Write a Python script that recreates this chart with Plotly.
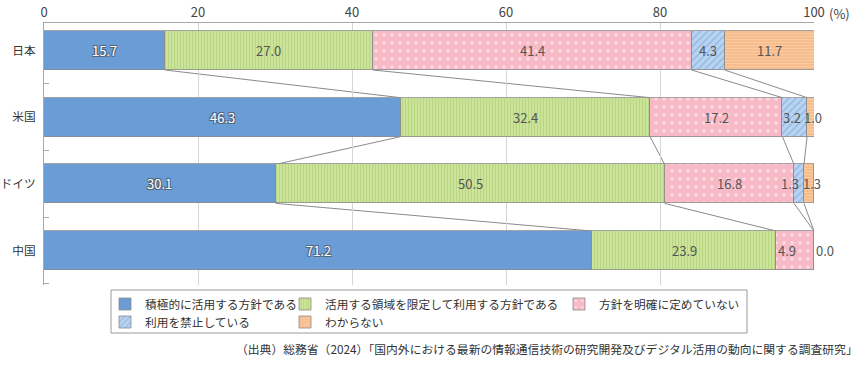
import plotly.graph_objects as go

# ---------------- data ----------------
countries = ["日本", "米国", "ドイツ", "中国"]
series_names = [
    "積極的に活用する方針である",
    "活用する領域を限定して利用する方針である",
    "方針を明確に定めていない",
    "利用を禁止している",
    "わからない",
]
active = [15.7, 46.3, 30.1, 71.2]
limited = [27.0, 32.4, 50.5, 23.9]
undecided = [41.4, 17.2, 16.8, 4.9]
prohibited = [4.3, 3.2, 1.3, 0.0]
unknown = [11.7, 1.0, 1.3, 0.0]
x_tick_vals = [0, 20, 40, 60, 80, 100]
x_tick_text = ["0", "20", "40", "60", "80", "100"]
source_text = "（出典）総務省（2024）「国内外における最新の情報通信技術の研究開発及びデジタル活用の動向に関する調査研究」"

series_values = [active, limited, undecided, prohibited, unknown]

# ---------------- style ----------------
FONT = "Noto Sans CJK JP"
W, H = 865, 371
PL, PR, PT, PB = 44, 814, 23, 285
PH = PB - PT
BAR_W = 0.585
Y_TOP, Y_BOT = -0.412, 3.516

styles = [
    dict(color="#6a9dd5", pattern=None),
    dict(color="#cbe39b", pattern=dict(shape="|", bgcolor="#cbe39b", fgcolor="#a3c963", size=3, solidity=0.35)),
    dict(color="#f7b9c5", pattern=dict(shape=".", bgcolor="#f7b9c5", fgcolor="#ffffff", size=8, solidity=0.15)),
    dict(color="#b9d3f1", pattern=dict(shape="/", bgcolor="#b9d3f1", fgcolor="#6f9fd8", size=5, solidity=0.3)),
    dict(color="#f8bd8c", pattern=dict(shape="-", bgcolor="#f8bd8c", fgcolor="#fcdcc2", size=3, solidity=0.3)),
]
legend_ids = ["legend", "legend2", "legend3", "legend4", "legend5"]
# label nudges (pixels) for the thin segments
label_shift = {(3, 1): -3, (4, 1): 2, (3, 2): -9, (4, 2): 3, (2, 3): -8, (3, 3): 11, (4, 3): 11}

ypos = list(range(len(countries)))

fig = go.Figure()
for k, (name, vals) in enumerate(zip(series_names, series_values)):
    marker = dict(color=styles[k]["color"], line=dict(color="#8c8c8c", width=0.8))
    if styles[k]["pattern"] is not None:
        marker["pattern"] = styles[k]["pattern"]
    fig.add_trace(go.Bar(
        x=vals, y=ypos, orientation="h", name=name, marker=marker,
        width=BAR_W, legend=legend_ids[k], hoverinfo="x+name",
    ))

# cumulative boundaries
cum = []
running = [0.0] * len(countries)
for vals in series_values:
    running = [r + v for r, v in zip(running, vals)]
    cum.append(running[:])

shapes = []
# connector lines between bars
for k in range(len(series_values) - 1):
    for i in range(len(countries) - 1):
        shapes.append(dict(
            type="line", xref="x", yref="y",
            x0=cum[k][i], y0=i + BAR_W / 2, x1=cum[k][i + 1], y1=i + 1 - BAR_W / 2,
            line=dict(color="#8a8a8a", width=1), layer="below",
        ))

# legend frame
shapes.append(dict(
    type="rect", xref="paper", yref="paper",
    x0=(111 - PL) / (PR - PL), x1=(747 - PL) / (PR - PL),
    y0=(PB - 290) / PH, y1=(PB - 333) / PH,
    line=dict(color="#9a9a9a", width=1), fillcolor="rgba(0,0,0,0)",
))

annotations = []
outline = "-1px -1px 0 #55657a, 1px -1px 0 #55657a, -1px 1px 0 #55657a, 1px 1px 0 #55657a"
n_series = len(series_values)
for k, vals in enumerate(series_values):
    for i, v in enumerate(vals):
        # zero-width segments at the same spot share one label
        if v == 0 and k < n_series - 1 and series_values[k + 1][i] == 0:
            continue
        start = cum[k][i] - v
        font = dict(family=FONT, size=13, color="#555555")
        if k == 0:
            font = dict(family=FONT, size=13, color="#ffffff", shadow=outline)
        annotations.append(dict(
            x=start + v / 2, y=i, xref="x", yref="y", text=f"{v:.1f}",
            showarrow=False, font=font, xanchor="center", yanchor="middle",
            xshift=label_shift.get((k, i), 0),
        ))

# "(%)" unit next to 100
annotations.append(dict(
    x=100, y=1, xref="x", yref="paper", text="(%)", showarrow=False,
    xanchor="left", yanchor="middle", xshift=13, yshift=10,
    font=dict(family=FONT, size=13, color="#444444"),
))
# source line
annotations.append(dict(
    x=(860 - PL) / (PR - PL), y=(PB - 348) / PH, xref="paper", yref="paper",
    text=source_text, showarrow=False, xanchor="right", yanchor="middle",
    font=dict(family=FONT, size=11.8, color="#333333"),
))

# legends: one item each, arranged in a 3-column grid
leg_text_x = [145, 325, 599, 145, 325]
leg_row_y = [304, 304, 304, 322, 322]
legend_layouts = {}
for k, lid in enumerate(legend_ids):
    legend_layouts[lid] = dict(
        x=(leg_text_x[k] - 40 - PL) / (PR - PL), y=(PB - leg_row_y[k]) / PH,
        xanchor="left", yanchor="middle", xref="paper", yref="paper",
        bgcolor="rgba(0,0,0,0)", borderwidth=0,
        font=dict(family=FONT, size=11.7, color="#333333"),
    )

fig.update_layout(
    width=W, height=H, autosize=False,
    margin=dict(l=PL, r=W - PR, t=PT, b=H - PB, pad=0, autoexpand=False),
    barmode="stack", bargap=0,
    plot_bgcolor="#ffffff", paper_bgcolor="#ffffff",
    font=dict(family=FONT, size=12, color="#333333"),
    shapes=shapes, annotations=annotations,
    xaxis=dict(
        side="top", range=[0, 100], tickvals=x_tick_vals, ticktext=x_tick_text,
        showgrid=True, gridcolor="#d6d6d6", gridwidth=1, zeroline=False,
        showline=True, linecolor="#a8a8a8", linewidth=1, ticks="",
        tickfont=dict(family=FONT, size=13, color="#444444"), fixedrange=True,
        automargin=False,
    ),
    yaxis=dict(
        range=[Y_BOT, Y_TOP], tickvals=ypos, ticktext=countries, ticks="",
        showgrid=False, zeroline=False, showline=True, linecolor="#a8a8a8", linewidth=1,
        tickfont=dict(family=FONT, size=11.7, color="#333333"), ticklabelstandoff=5,
        minor=dict(tickvals=[0.5, 1.5, 2.5, 3.5], ticks="inside", ticklen=5,
                   tickcolor="#a8a8a8", showgrid=False),
        fixedrange=True, automargin=False,
    ),
    showlegend=True,
    **legend_layouts,
)

fig.write_html("out.html")
